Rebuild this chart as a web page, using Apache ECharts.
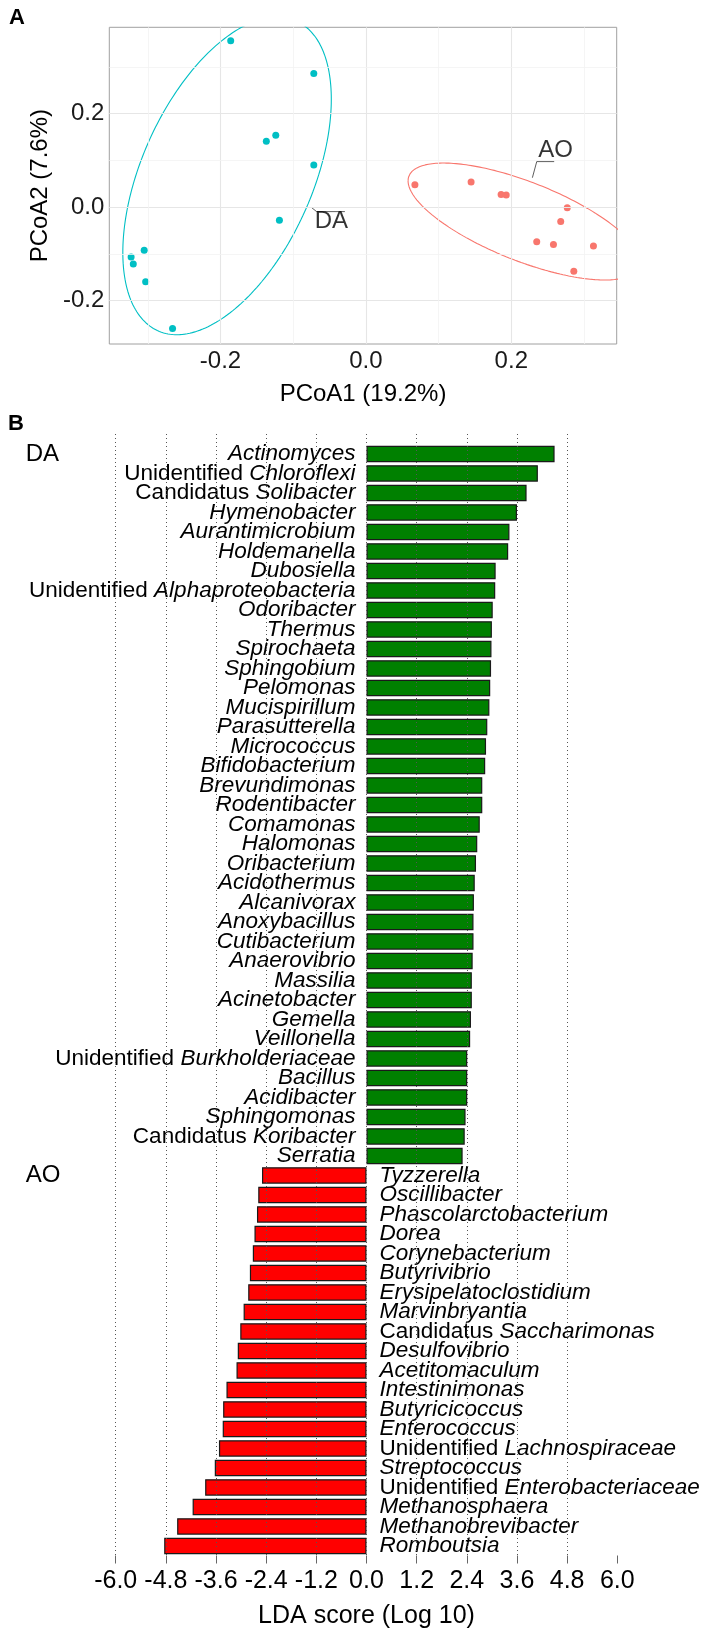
<!DOCTYPE html>
<html><head><meta charset="utf-8">
<script src="https://cdn.jsdelivr.net/npm/echarts@6/dist/echarts.min.js"></script>
<style>html,body{margin:0;padding:0;background:#fff}#c{width:702px;height:1637px}</style>
</head><body><div id="c"></div>
<script>
// ---------- Panel A: PCoA ----------
const daX = [-0.186, -0.0717, -0.137, -0.124, -0.0717, -0.119, -0.305, -0.323, -0.320, -0.303, -0.266];
const daY = [0.356, 0.286, 0.141, 0.154, 0.090, -0.028, -0.0925, -0.107, -0.122, -0.160, -0.260];
const aoX = [0.0674, 0.1447, 0.186, 0.193, 0.277, 0.268, 0.235, 0.258, 0.313, 0.286];
const aoY = [0.0477, 0.054, 0.027, 0.026, -0.0014, -0.031, -0.074, -0.080, -0.083, -0.137];
const pcoaMajorTicks = [-0.2, 0.0, 0.2];
const pcoaMinorTicksX = [-0.3, -0.1, 0.1, 0.3];
const pcoaMinorTicksY = [-0.1, 0.1, 0.3];
// 95% ellipses: center, conjugate semi-diameters
const ellDA = {cx: -0.191, cy: 0.067, ax: 0.1434, ay: 0.164, by: 0.298};
const ellAO = {cx: 0.2178, cy: -0.0308, ax: -0.1598, ay: 0.087, by: 0.090};
// group labels with repel leaders (data coords)
const labelDA = {text: 'DA', pos: [-0.0475, -0.031], leader: [[-0.0747, -0.001], [-0.0678, -0.0096], [-0.0289, -0.0096]]};
const labelAO = {text: 'AO', pos: [0.261, 0.122], leader: [[0.229, 0.063], [0.235, 0.0975], [0.259, 0.0975]]};

// ---------- Panel B: LEfSe ----------
const daTaxa = ['Actinomyces','Unidentified Chloroflexi','Candidatus Solibacter','Hymenobacter','Aurantimicrobium','Holdemanella','Dubosiella','Unidentified Alphaproteobacteria','Odoribacter','Thermus','Spirochaeta','Sphingobium','Pelomonas','Mucispirillum','Parasutterella','Micrococcus','Bifidobacterium','Brevundimonas','Rodentibacter','Comamonas','Halomonas','Oribacterium','Acidothermus','Alcanivorax','Anoxybacillus','Cutibacterium','Anaerovibrio','Massilia','Acinetobacter','Gemella','Veillonella','Unidentified Burkholderiaceae','Bacillus','Acidibacter','Sphingomonas','Candidatus Koribacter','Serratia'];
const daLDA = [4.50, 4.10, 3.83, 3.60, 3.42, 3.39, 3.09, 3.08, 3.02, 3.00, 2.99, 2.98, 2.96, 2.94, 2.89, 2.86, 2.84, 2.77, 2.77, 2.71, 2.65, 2.62, 2.59, 2.57, 2.56, 2.56, 2.54, 2.52, 2.52, 2.50, 2.48, 2.41, 2.41, 2.41, 2.37, 2.35, 2.30];
const aoTaxa = ['Tyzzerella','Oscillibacter','Phascolarctobacterium','Dorea','Corynebacterium','Butyrivibrio','Erysipelatoclostidium','Marvinbryantia','Candidatus Saccharimonas','Desulfovibrio','Acetitomaculum','Intestinimonas','Butyricicoccus','Enterococcus','Unidentified Lachnospiraceae','Streptococcus','Unidentified Enterobacteriaceae','Methanosphaera','Methanobrevibacter','Romboutsia'];
const aoLDA = [-2.50, -2.59, -2.62, -2.68, -2.72, -2.79, -2.83, -2.94, -3.02, -3.08, -3.11, -3.35, -3.43, -3.44, -3.53, -3.63, -3.86, -4.16, -4.53, -4.84];
const ldaMin = -6.0, ldaMax = 6.0, ldaStep = 1.2;

const FONT = 'Liberation Sans, Arial, Helvetica, sans-serif';
const TEAL = '#00BFC4', SALMON = '#F8766D';

function ellipsePts(e) {
  const pts = [];
  for (let k = 0; k <= 240; k++) {
    const t = 2 * Math.PI * k / 240;
    pts.push([e.cx + e.ax * Math.cos(t), e.cy + e.ay * Math.cos(t) + e.by * Math.sin(t)]);
  }
  return pts;
}
function zip(xs, ys) { return xs.map((x, i) => [x, ys[i]]); }
function fmtTaxon(name) {
  const m = name.match(/^(Unidentified|Candidatus) (.*)$/);
  if (m) return '{n|' + m[1] + ' }{i|' + m[2] + '}';
  return '{i|' + name + '}';
}
function fmt1(v) { const r = Math.round(v * 10) / 10; return (Math.abs(r) < 1e-9 ? 0 : r).toFixed(1); }

const cats = daTaxa.concat(aoTaxa);
const nDA = daTaxa.length;
const daData = cats.map((c, i) => i < nDA ? daLDA[i] : '-');
const aoData = cats.map((c, i) => i >= nDA ? aoLDA[i - nDA] : '-');

const rich = {
  n: {fontSize: 22.5, fontFamily: FONT, fontStyle: 'normal', color: '#000'},
  i: {fontSize: 22.5, fontFamily: FONT, fontStyle: 'italic', color: '#000'}
};

const gridMarks = [];
pcoaMajorTicks.forEach(v => { gridMarks.push({xAxis: v, lineStyle: {color: '#E6E6E6', width: 1.1, type: 'solid'}}); gridMarks.push({yAxis: v, lineStyle: {color: '#E6E6E6', width: 1.1, type: 'solid'}}); });
pcoaMinorTicksX.forEach(v => gridMarks.push({xAxis: v, lineStyle: {color: '#F3F3F3', width: 0.8, type: 'solid'}}));
pcoaMinorTicksY.forEach(v => gridMarks.push({yAxis: v, lineStyle: {color: '#F3F3F3', width: 0.8, type: 'solid'}}));

const chart = echarts.init(document.getElementById('c'), null, {renderer: 'canvas'});
chart.setOption({
  animation: false,
  backgroundColor: '#fff',
  textStyle: {fontFamily: FONT},
  grid: [
    {left: 109.3, top: 27.3, width: 507.4, height: 316.7, show: true, borderColor: '#A0A0A0', borderWidth: 1, backgroundColor: 'transparent', containLabel: false},
    {left: 115.7, top: 444.2, width: 501.6, height: 1111.5, containLabel: false},
    {left: 115.7, top: 434, width: 501.6, height: 1121.5, containLabel: false}
  ],
  xAxis: [
    {gridIndex: 0, type: 'value', min: -0.353, max: 0.345,
     axisLine: {show: false}, splitLine: {show: false},
     axisTick: {show: true, length: 3, customValues: pcoaMajorTicks, lineStyle: {color: '#999'}},
     axisLabel: {customValues: pcoaMajorTicks, formatter: v => fmt1(v), fontSize: 24, color: '#1a1a1a', margin: 5, fontFamily: FONT},
     name: 'PCoA1 (19.2%)', nameLocation: 'middle', nameGap: 38, nameTextStyle: {fontSize: 24, color: '#000', fontFamily: FONT}},
    {gridIndex: 1, type: 'value', min: ldaMin, max: ldaMax, show: false},
    {gridIndex: 2, type: 'value', min: ldaMin, max: ldaMax, interval: ldaStep, z: 10, offset: 3,
     axisLine: {show: false},
     axisTick: {show: true, length: 8, lineStyle: {color: '#666', width: 1}},
     axisLabel: {formatter: v => fmt1(v), fontSize: 25, color: '#000', margin: 10, fontFamily: FONT},
     splitLine: {show: true, showMinLine: true, showMaxLine: false, lineStyle: {color: '#555', width: 1, type: [1, 3]}},
     name: 'LDA score (Log 10)', nameLocation: 'middle', nameGap: 45, nameTextStyle: {fontSize: 25, color: '#000', fontFamily: FONT}}
  ],
  yAxis: [
    {gridIndex: 0, type: 'value', min: -0.293, max: 0.385,
     axisLine: {show: false}, splitLine: {show: false},
     axisTick: {show: true, length: 3, customValues: pcoaMajorTicks, lineStyle: {color: '#999'}},
     axisLabel: {customValues: pcoaMajorTicks, formatter: v => fmt1(v), fontSize: 24, color: '#1a1a1a', margin: 5, fontFamily: FONT},
     name: 'PCoA2 (7.6%)', nameLocation: 'middle', nameGap: 52, nameTextStyle: {fontSize: 24, color: '#000', fontFamily: FONT}},
    {gridIndex: 1, type: 'category', data: cats, inverse: true,
     axisLine: {show: false, onZero: false}, axisTick: {show: false}, splitLine: {show: false},
     axisLabel: {show: true, interval: 0, align: 'left', margin: 90, fontSize: 24, color: '#000', fontFamily: FONT,
       formatter: (v, idx) => idx === 0 ? 'DA' : (idx === nDA ? 'AO' : '')}},
    {gridIndex: 2, type: 'value', min: 0, max: 1, show: false}
  ],
  series: [
    {type: 'line', xAxisIndex: 0, yAxisIndex: 0, data: [], z: 1, silent: true,
     markLine: {silent: true, symbol: 'none', label: {show: false}, data: gridMarks, animation: false}},
    {type: 'line', xAxisIndex: 0, yAxisIndex: 0, data: ellipsePts(ellDA), showSymbol: false, symbol: 'none', clip: true, z: 2,
     lineStyle: {color: TEAL, width: 1.1}, silent: true},
    {type: 'line', xAxisIndex: 0, yAxisIndex: 0, data: ellipsePts(ellAO), showSymbol: false, symbol: 'none', clip: true, z: 2,
     lineStyle: {color: SALMON, width: 1.1}, silent: true},
    {type: 'line', xAxisIndex: 0, yAxisIndex: 0, data: labelDA.leader, showSymbol: false, symbol: 'none', z: 2, lineStyle: {color: '#333', width: 0.8}},
    {type: 'line', xAxisIndex: 0, yAxisIndex: 0, data: labelAO.leader, showSymbol: false, symbol: 'none', z: 2, lineStyle: {color: '#333', width: 0.8}},
    {type: 'scatter', xAxisIndex: 0, yAxisIndex: 0, data: zip(daX, daY), symbolSize: 7, itemStyle: {color: TEAL, opacity: 1}, z: 3},
    {type: 'scatter', xAxisIndex: 0, yAxisIndex: 0, data: zip(aoX, aoY), symbolSize: 7, itemStyle: {color: SALMON, opacity: 1}, z: 3},
    {type: 'scatter', xAxisIndex: 0, yAxisIndex: 0, symbolSize: 0, z: 4,
     data: [{value: labelDA.pos, name: labelDA.text}, {value: labelAO.pos, name: labelAO.text}],
     label: {show: true, position: 'inside', formatter: p => p.name, fontSize: 24, color: '#000', fontFamily: FONT}},
    {type: 'bar', xAxisIndex: 1, yAxisIndex: 1, data: daData, barWidth: '84%', barGap: '-100%', z: 2,
     itemStyle: {color: '#008000', borderColor: '#1a1a1a', borderWidth: 1.2},
     label: {show: true, position: 'left', distance: 11, formatter: p => fmtTaxon(p.name), rich: rich}},
    {type: 'bar', xAxisIndex: 1, yAxisIndex: 1, data: aoData, barWidth: '84%', barGap: '-100%', z: 2,
     itemStyle: {color: '#FF0000', borderColor: '#1a1a1a', borderWidth: 1.2},
     label: {show: true, position: 'right', distance: 13, formatter: p => fmtTaxon(p.name), rich: rich}}
  ],
  graphic: [
    {type: 'text', left: 9, top: 7, style: {text: 'A', fontSize: 22, fontWeight: 'bold', fontFamily: FONT, fill: '#000'}},
    {type: 'text', left: 8, top: 413, style: {text: 'B', fontSize: 22, fontWeight: 'bold', fontFamily: FONT, fill: '#000'}}
  ]
});
</script></body></html>
